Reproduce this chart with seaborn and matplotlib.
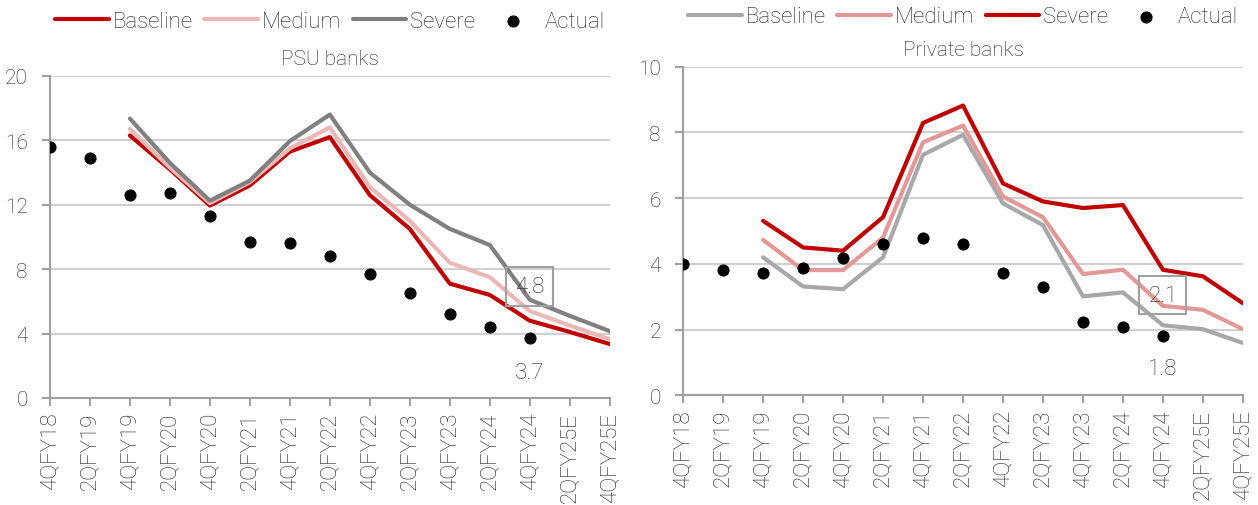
import numpy as np
import pandas as pd
import seaborn as sns
import matplotlib.pyplot as plt

quarters = ["4QFY18", "2QFY19", "4QFY19", "2QFY20", "4QFY20", "2QFY21", "4QFY21",
            "2QFY22", "4QFY22", "2QFY23", "4QFY23", "2QFY24", "4QFY24", "2QFY25E", "4QFY25E"]

# PSU banks
psu_actual = [15.6, 14.9, 12.6, 12.7, 11.3, 9.7, 9.6, 8.8, 7.7, 6.5, 5.2, 4.4, 3.7, np.nan, np.nan]
psu_baseline = [np.nan, np.nan, 16.3, 14.2, 11.95, 13.2, 15.3, 16.2, 12.6, 10.5, 7.1, 6.4, 4.8, 4.1, 3.35]
psu_medium = [np.nan, np.nan, 16.7, 14.3, 12.1, 13.4, 15.5, 16.8, 13.1, 11.0, 8.4, 7.5, 5.4, 4.5, 3.65]
psu_severe = [np.nan, np.nan, 17.35, 14.6, 12.25, 13.5, 15.95, 17.6, 14.0, 12.0, 10.5, 9.5, 6.1, 5.1, 4.15]

# Private banks
pvt_actual = [4.0, 3.8, 3.72, 3.88, 4.18, 4.6, 4.78, 4.6, 3.72, 3.28, 2.22, 2.09, 1.8, np.nan, np.nan]
pvt_baseline = [np.nan, np.nan, 4.2, 3.31, 3.23, 4.2, 7.32, 7.93, 5.84, 5.18, 3.01, 3.13, 2.13, 2.01, 1.59]
pvt_medium = [np.nan, np.nan, 4.73, 3.81, 3.81, 4.8, 7.7, 8.21, 6.05, 5.42, 3.69, 3.82, 2.72, 2.6, 2.01]
pvt_severe = [np.nan, np.nan, 5.31, 4.5, 4.4, 5.42, 8.29, 8.82, 6.45, 5.9, 5.7, 5.79, 3.82, 3.62, 2.8]

sns.set_theme(style="white")
plt.rcParams['font.family'] = ['Roboto', 'DejaVu Sans']
plt.rcParams['font.weight'] = 'light'
plt.rcParams['text.color'] = '#222222'
plt.rcParams['xtick.color'] = '#222222'
plt.rcParams['ytick.color'] = '#222222'

fig = plt.figure(figsize=(12.58, 5.06), dpi=100)
ax1 = fig.add_axes([0.0397, 0.2115, 0.445, 0.6365])
ax2 = fig.add_axes([0.543, 0.217, 0.445, 0.649])

x = np.arange(len(quarters))


def draw(ax, base, med, sev, act, colors, ymax, step, title, boxval, boxy, lowval, lowy, legy, titley):
    df = pd.DataFrame({"x": x, "Baseline": base, "Medium": med, "Severe": sev, "Actual": act})
    for name, c in zip(["Baseline", "Medium", "Severe"], colors):
        sns.lineplot(data=df, x="x", y=name, ax=ax, color=c, linewidth=3, label=name)
    sns.scatterplot(data=df, x="x", y="Actual", ax=ax, color="black", s=65,
                    edgecolor="black", label="Actual", zorder=5)
    ax.set_xlim(0, len(quarters) - 1)
    ax.set_ylim(0, ymax)
    ax.set_yticks(np.arange(0, ymax + 0.01, step))
    ax.set_xticks(x)
    ax.set_xticklabels(quarters, rotation=90, fontsize=16)
    ax.tick_params(axis="y", labelsize=15, length=6, width=1.5, color="#A0A0A0",
                   direction="out", left=True, pad=10, labelcolor="#222222")
    ax.tick_params(axis="x", length=6, width=1.5, color="#A0A0A0", direction="out",
                   bottom=True, pad=4, labelcolor="#222222")
    ax.yaxis.grid(True, color="#D0D0D0", linewidth=1.5)
    ax.set_axisbelow(True)
    for s in ["top", "right"]:
        ax.spines[s].set_visible(False)
    for s in ["left", "bottom"]:
        ax.spines[s].set_color("#A0A0A0")
        ax.spines[s].set_linewidth(1.5)
    ax.set_xlabel("")
    ax.set_ylabel("")
    ax.set_title(title, fontsize=15, y=titley, fontweight="light")
    ax.text(12, boxy, boxval, fontsize=16, ha="center", va="center",
            bbox=dict(boxstyle="square,pad=0.4", fc="none", ec="#A0A0A0", lw=1.5))
    ax.text(12, lowy, lowval, fontsize=16, ha="center", va="center")
    ax.legend(loc="center", bbox_to_anchor=(0.5, legy), ncol=4, frameon=False,
              fontsize=16, handlelength=2.4, columnspacing=0.5, handletextpad=0.2,
              markerscale=1.0)


draw(ax1, psu_baseline, psu_medium, psu_severe, psu_actual,
     ["#C00000", "#EBB7B7", "#808080"], 20, 4, "PSU banks", "4.8", 6.9, "3.7", 1.6, 1.17, 1.01)
draw(ax2, pvt_baseline, pvt_medium, pvt_severe, pvt_actual,
     ["#A8A8A8", "#E39898", "#C00000"], 10, 2, "Private banks", "2.1", 3.05, "1.8", 0.8, 1.152, 1.01)

fig.savefig("out.png", dpi=100)
